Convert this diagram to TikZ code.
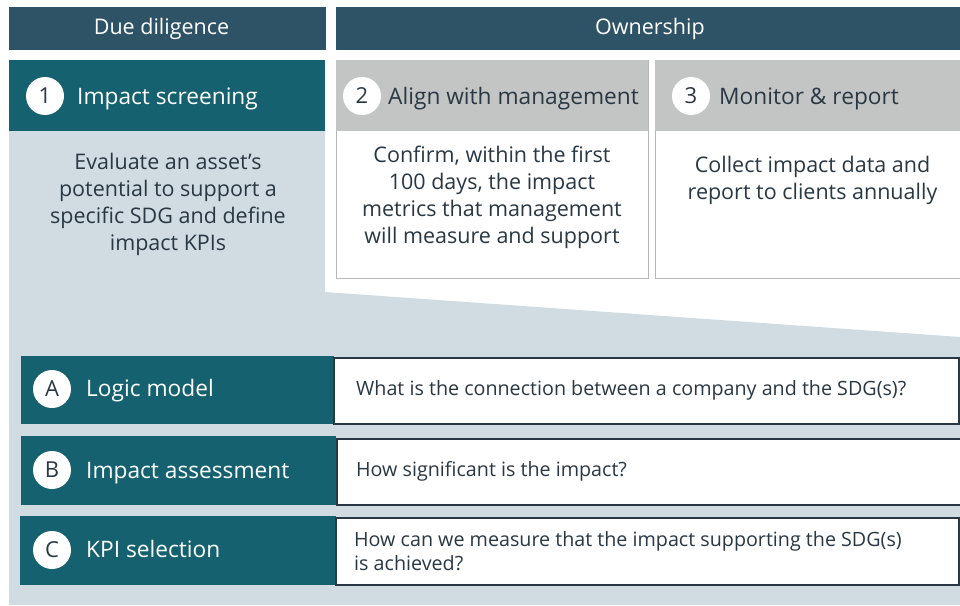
\documentclass[tikz,border=0pt]{standalone}
\usepackage{fontspec}
\setmainfont{Open Sans}
\definecolor{hdrblue}{HTML}{2E5366}
\definecolor{teal}{HTML}{15616F}
\definecolor{lightbg}{HTML}{D0DCE2}
\definecolor{greyhdr}{HTML}{C3C5C4}
\definecolor{greyline}{HTML}{B5B8B7}
\definecolor{darktext}{HTML}{2A3843}
\tikzset{
  phase/.style={fill=hdrblue, anchor=north west, inner sep=0pt},
  phasetext/.style={text=white, anchor=base, inner sep=0pt,
    font=\fontsize{21.5}{26}\selectfont},
  numc/.style={circle, fill=white, text=darktext, minimum size=38pt, inner sep=0pt,
    font=\fontsize{22}{26}\selectfont},
  title/.style={anchor=base west, inner sep=0pt, font=\fontsize{22.7}{28}\selectfont},
  body/.style={align=center, text=darktext, inner sep=0pt,
    font=\fontsize{21.5}{27}\selectfont},
  quest/.style={align=left, text=darktext, inner sep=0pt,
    font=\fontsize{19.7}{24}\selectfont},
  tealbox/.style={fill=teal, anchor=north west, inner sep=0pt},
  qbox/.style={fill=white, draw=darktext, line width=1.5pt, anchor=north west, inner sep=0pt},
}
\begin{document}
\begin{tikzpicture}[x=1pt,y=-1pt]
\useasboundingbox (0,0) rectangle (960,605);
% light background funnel
\fill[lightbg] (9,292) -- (325,292) -- (960,337) -- (960,605) -- (9,605) -- cycle;
% phase headers
\node[phase, minimum width=317pt, minimum height=43pt] (dd) at (9,7) {};
\node[phasetext] (ddt) at (161.5,34.3) {Due diligence};
\node[phase, minimum width=624pt, minimum height=43pt] (own) at (336,7) {};
\node[phasetext] (ownt) at (650,34.3) {Ownership};
% step 1
\node[tealbox, minimum width=316pt, minimum height=71pt] (h1) at (9,60) {};
\node[fill=lightbg, anchor=north west, inner sep=0pt, minimum width=316pt, minimum height=161pt] (b1) at (9,131) {};
\node[numc] (n1) at (45,96) {1};
\node[title, text=white] (t1) at (77,104) {Impact screening};
\node[body] (d1) at (168,204.3) {Evaluate an asset’s\\potential to support a\\specific SDG and define\\impact KPIs};
% step 2
\node[fill=white, draw=greyline, line width=1.2pt, anchor=north west, inner sep=0pt, minimum width=312pt, minimum height=218pt] (b2) at (336,60) {};
\node[fill=greyhdr, anchor=north west, inner sep=0pt, minimum width=312pt, minimum height=71pt] (h2) at (336,60) {};
\node[numc] (n2) at (362,96) {2};
\node[title, text=darktext] (t2) at (388,104) {Align with management};
\node[body] (d2) at (492,197.3) {Confirm, within the first\\100 days, the impact\\metrics that management\\will measure and support};
% step 3
\node[fill=white, draw=greyline, line width=1.2pt, anchor=north west, inner sep=0pt, minimum width=310pt, minimum height=218pt] (b3) at (655,60) {};
\node[fill=greyhdr, anchor=north west, inner sep=0pt, minimum width=310pt, minimum height=71pt] (h3) at (655,60) {};
\node[numc] (n3) at (691,96) {3};
\node[title, text=darktext] (t3) at (719,104) {Monitor \& report};
\node[body] (d3) at (812.5,180.9) {Collect impact data and\\report to clients annually};
% row A
\node[tealbox, minimum width=313pt, minimum height=68pt] (ra) at (21,356) {};
\node[qbox, minimum width=625pt, minimum height=66pt] (qa) at (333,357) {};
\node[numc] (na) at (52,389) {A};
\node[title, text=white] (la) at (86,396.7) {Logic model};
\node[quest, anchor=base west] (xa) at (356,395.7) {What is the connection between a company and the SDG(s)?};
% row B
\node[tealbox, minimum width=315pt, minimum height=69pt] (rb) at (21,436) {};
\node[qbox, minimum width=630pt, minimum height=66pt] (qb) at (336,438) {};
\node[numc] (nb) at (52,470) {B};
\node[title, text=white] (lb) at (86,478.3) {Impact assessment};
\node[quest, anchor=base west] (xb) at (356,476.7) {How significant is the impact?};
% row C
\node[tealbox, minimum width=316pt, minimum height=69pt] (rc) at (20,516) {};
\node[qbox, minimum width=623pt, minimum height=67pt] (qc) at (335,517) {};
\node[numc] (nc) at (52,550) {C};
\node[title, text=white] (lc) at (86,557.3) {KPI selection};
\node[quest, anchor=west] (xc) at (354,551) {How can we measure that the impact supporting the SDG(s)\\is achieved?};
\end{tikzpicture}
\end{document}
